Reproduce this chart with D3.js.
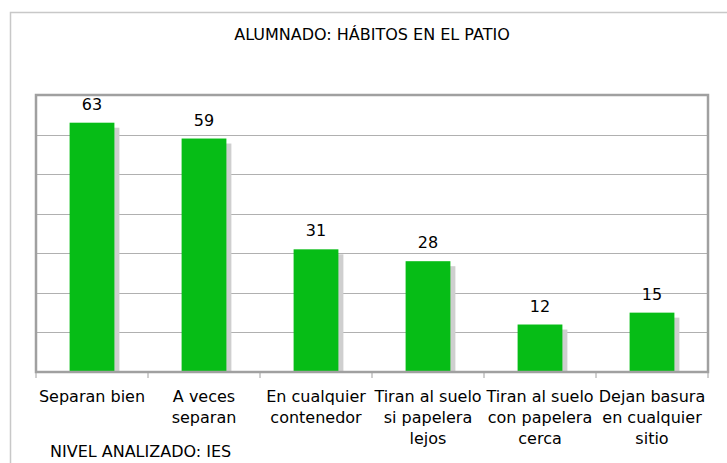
<!DOCTYPE html>
<html>
<head>
<meta charset="utf-8">
<script src="https://cdn.jsdelivr.net/npm/d3@7"></script>
<style>
  body { margin: 0; background: #fff; }
  text { font-family: "DejaVu Sans", Verdana, sans-serif; fill: #000; }
</style>
</head>
<body>
<div id="chart"></div>
<script>
// chart data
var categories = [
    ["Separan bien"],
    ["A veces", "separan"],
    ["En cualquier", "contenedor"],
    ["Tiran al suelo", "si papelera", "lejos"],
    ["Tiran al suelo", "con papelera", "cerca"],
    ["Dejan basura", "en cualquier", "sitio"]
];
var values = [63, 59, 31, 28, 12, 15];
var yTicks = [0, 10, 20, 30, 40, 50, 60, 70];
var title = "ALUMNADO: HÁBITOS EN EL PATIO";
var footer = "NIVEL ANALIZADO: IES";

var width = 727, height = 463;
var margin = {top: 95, right: 19, bottom: 91, left: 36};
var plotW = width - margin.left - margin.right;
var plotH = height - margin.top - margin.bottom;

var svg = d3.select("#chart").append("svg")
    .attr("width", width)
    .attr("height", height);

// outer frame
svg.append("path")
    .attr("d", "M10.5," + height + "V12.5H" + width)
    .style("fill", "none")
    .style("stroke", "#c8c8c8")
    .style("stroke-width", 1.5);

svg.append("text")
    .attr("x", 372)
    .attr("y", 40)
    .attr("text-anchor", "middle")
    .style("font-size", "16px")
    .text(title);

var g = svg.append("g")
    .attr("transform", "translate(" + margin.left + "," + margin.top + ")");

var x = d3.scaleBand()
    .domain(d3.range(categories.length))
    .range([0, plotW])
    .paddingInner(0.6)
    .paddingOuter(0.3);

var xCat = d3.scaleBand()
    .domain(d3.range(categories.length))
    .range([0, plotW]);

var y = d3.scaleLinear()
    .domain([0, 70])
    .range([plotH, 0]);

// gridlines
g.selectAll(".grid")
    .data(yTicks.slice(1, -1))
    .enter().append("line")
    .attr("x1", 0)
    .attr("x2", plotW)
    .attr("y1", function(d) { return Math.round(y(d)) + 0.5; })
    .attr("y2", function(d) { return Math.round(y(d)) + 0.5; })
    .style("stroke", "#b0b0b0")
    .style("stroke-width", 1);

// shadows
g.selectAll(".shadow")
    .data(values)
    .enter().append("rect")
    .attr("x", function(d, i) { return x(i) + 5; })
    .attr("y", function(d) { return y(d) + 5; })
    .attr("width", x.bandwidth())
    .attr("height", function(d) { return plotH - y(d) - 5; })
    .style("fill", "#cfcfcf");

// bars
g.selectAll(".bar")
    .data(values)
    .enter().append("rect")
    .attr("x", function(d, i) { return x(i); })
    .attr("y", function(d) { return y(d); })
    .attr("width", x.bandwidth())
    .attr("height", function(d) { return plotH - y(d); })
    .style("fill", "#06bd16");

// value labels
g.selectAll(".val")
    .data(values)
    .enter().append("text")
    .attr("x", function(d, i) { return x(i) + x.bandwidth() / 2; })
    .attr("y", function(d) { return y(d) - 13; })
    .attr("text-anchor", "middle")
    .style("font-size", "16px")
    .text(function(d) { return d; });

// plot frame
g.append("rect")
    .attr("x", 0)
    .attr("y", 0)
    .attr("width", plotW)
    .attr("height", plotH)
    .style("fill", "none")
    .style("stroke", "#a0a0a0")
    .style("stroke-width", 2.5);

// x ticks
g.selectAll(".tick")
    .data(d3.range(categories.length + 1))
    .enter().append("line")
    .attr("x1", function(d) { return d * xCat.step(); })
    .attr("x2", function(d) { return d * xCat.step(); })
    .attr("y1", plotH)
    .attr("y2", plotH + 6)
    .style("stroke", "#a0a0a0");

// category labels
var labels = g.selectAll(".cat")
    .data(categories)
    .enter().append("text")
    .attr("text-anchor", "middle")
    .attr("transform", function(d, i) {
        return "translate(" + (xCat(i) + xCat.bandwidth() / 2) + "," + (plotH + 30) + ")";
    })
    .style("font-size", "16px");

labels.selectAll("tspan")
    .data(function(d) { return d; })
    .enter().append("tspan")
    .attr("x", 0)
    .attr("y", function(d, i) { return i * 21; })
    .text(function(d) { return d; });

svg.append("text")
    .attr("x", 50)
    .attr("y", 457)
    .style("font-size", "16px")
    .text(footer);
</script>
</body>
</html>
